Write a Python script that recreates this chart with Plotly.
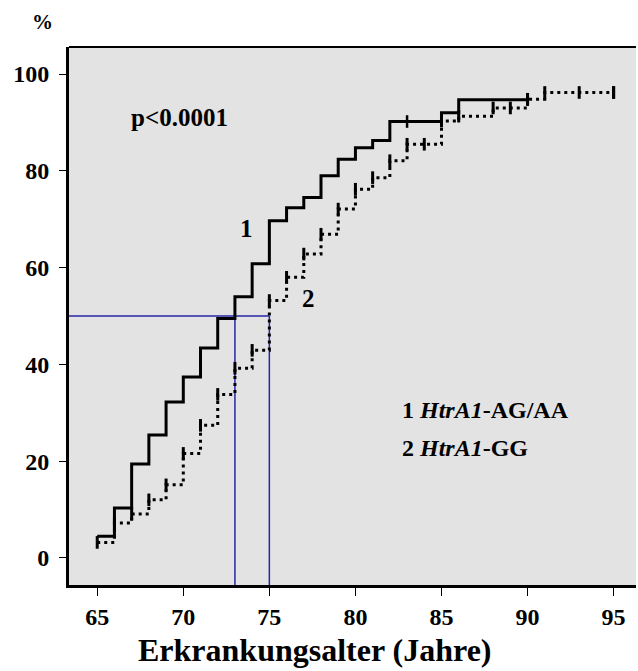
import plotly.graph_objects as go

# Curve 1: HtrA1-AG/AA (solid)
ages1 = [65, 66, 67, 68, 69, 70, 71, 72, 73, 74, 75, 76, 77, 78, 79, 80, 81, 82, 85, 86, 90]
cum1 = [4.5, 10.3, 19.4, 25.4, 32.2, 37.4, 43.4, 49.5, 54.0, 60.8, 69.7, 72.4, 74.5, 79.0, 82.4, 84.8, 86.3, 90.2, 92.0, 94.7, 94.7]
cens1_x = [83, 90]
cens1_y = [90.2, 94.7]

# Curve 2: HtrA1-GG (dotted)
ages2 = [65, 66, 67, 68, 69, 70, 71, 72, 73, 74, 75, 76, 77, 78, 79, 80, 81, 82, 83, 85, 86, 88, 90, 91, 95]
cum2 = [3.2, 7.2, 9.1, 12.0, 15.1, 21.6, 27.4, 33.8, 39.2, 42.9, 53.2, 58.0, 62.8, 66.9, 72.1, 76.2, 78.6, 82.1, 85.5, 90.3, 91.3, 93.0, 94.8, 96.2, 96.2]
cens2_x = [84, 89, 93, 95]
cens2_y = [85.5, 93.0, 96.2, 96.2]

# median lines
median_level = 50
median_ages = [73, 75]

xticks = [65, 70, 75, 80, 85, 90, 95]
yticks = [0, 20, 40, 60, 80, 100]

FONT = "Liberation Serif"
XR = [63.36, 96.3]
YR = [-5.6, 105.6]

fig = go.Figure()

blue = "#2626a6"
fig.add_trace(go.Scatter(x=[XR[0], median_ages[1]], y=[median_level, median_level], mode="lines",
                         line=dict(color=blue, width=1.5), showlegend=False, hoverinfo="skip"))
for a in median_ages:
    fig.add_trace(go.Scatter(x=[a, a], y=[YR[0], median_level], mode="lines",
                             line=dict(color=blue, width=1.5), showlegend=False, hoverinfo="skip"))

fig.add_trace(go.Scatter(x=ages2, y=cum2, mode="lines+markers", line_shape="hv",
                         line=dict(color="black", width=3, dash="3px,4px"),
                         marker=dict(symbol="line-ns", size=9, line=dict(color="black", width=3)),
                         showlegend=False))
fig.add_trace(go.Scatter(x=cens2_x, y=cens2_y, mode="markers",
                         marker=dict(symbol="line-ns", size=9, line=dict(color="black", width=3)),
                         showlegend=False))
fig.add_trace(go.Scatter(x=ages1, y=cum1, mode="lines", line_shape="hv",
                         line=dict(color="black", width=3), showlegend=False))
fig.add_trace(go.Scatter(x=cens1_x, y=cens1_y, mode="markers",
                         marker=dict(symbol="line-ns", size=9, line=dict(color="black", width=2.5)),
                         showlegend=False))

tfont = dict(family=FONT, size=24, color="black", weight="bold")
fig.update_layout(
    width=638, height=671,
    margin=dict(l=69, r=2, t=47, b=86),
    paper_bgcolor="white", plot_bgcolor="#e3e3e3",
    xaxis=dict(range=XR, tickvals=xticks, ticks="outside", ticklen=8, tickwidth=1, tickcolor="black",
               showline=True, linewidth=3, linecolor="black", showgrid=False, zeroline=False,
               tickfont=tfont, ticklabelstandoff=0),
    yaxis=dict(range=YR, tickvals=yticks, ticks="outside", ticklen=7, tickwidth=1, tickcolor="black",
               showline=True, linewidth=3, linecolor="black", showgrid=False, zeroline=False,
               tickfont=tfont, ticklabelstandoff=5),
    shapes=[dict(type="line", xref="paper", yref="paper", x0=0, x1=1, y0=1, y1=1,
                 line=dict(color="black", width=2))],
)

ann = dict(showarrow=False, font=dict(family=FONT, size=25, color="black"))
fig.add_annotation(x=69.8, y=91.1, text="<b>p<0.0001</b>", **ann)
fig.add_annotation(x=73.7, y=68, text="<b>1</b>", **ann)
fig.add_annotation(x=77.3, y=53.6, text="<b>2</b>", **ann)
fig.add_annotation(x=82.6, y=30.5, xanchor="left", text="<b>1 <i>HtrA1</i>-AG/AA</b>",
                   showarrow=False, font=dict(family=FONT, size=24, color="black"))
fig.add_annotation(x=82.6, y=22.7, xanchor="left", text="<b>2 <i>HtrA1</i>-GG</b>",
                   showarrow=False, font=dict(family=FONT, size=24, color="black"))
fig.add_annotation(xref="paper", yref="paper", x=(315 - 69) / 567, y=(671 - 650 - 86) / 538,
                   xanchor="center", yanchor="middle",
                   text="<b>Erkrankungsalter (Jahre)</b>", showarrow=False,
                   font=dict(family=FONT, size=32, color="black"))
fig.add_annotation(xref="paper", yref="paper", x=(42 - 69) / 567, y=1 + (47 - 22) / 538,
                   xanchor="center", yanchor="middle",
                   text="<b>%</b>", showarrow=False, font=dict(family=FONT, size=21, color="black"))

fig.write_html("out.html")
